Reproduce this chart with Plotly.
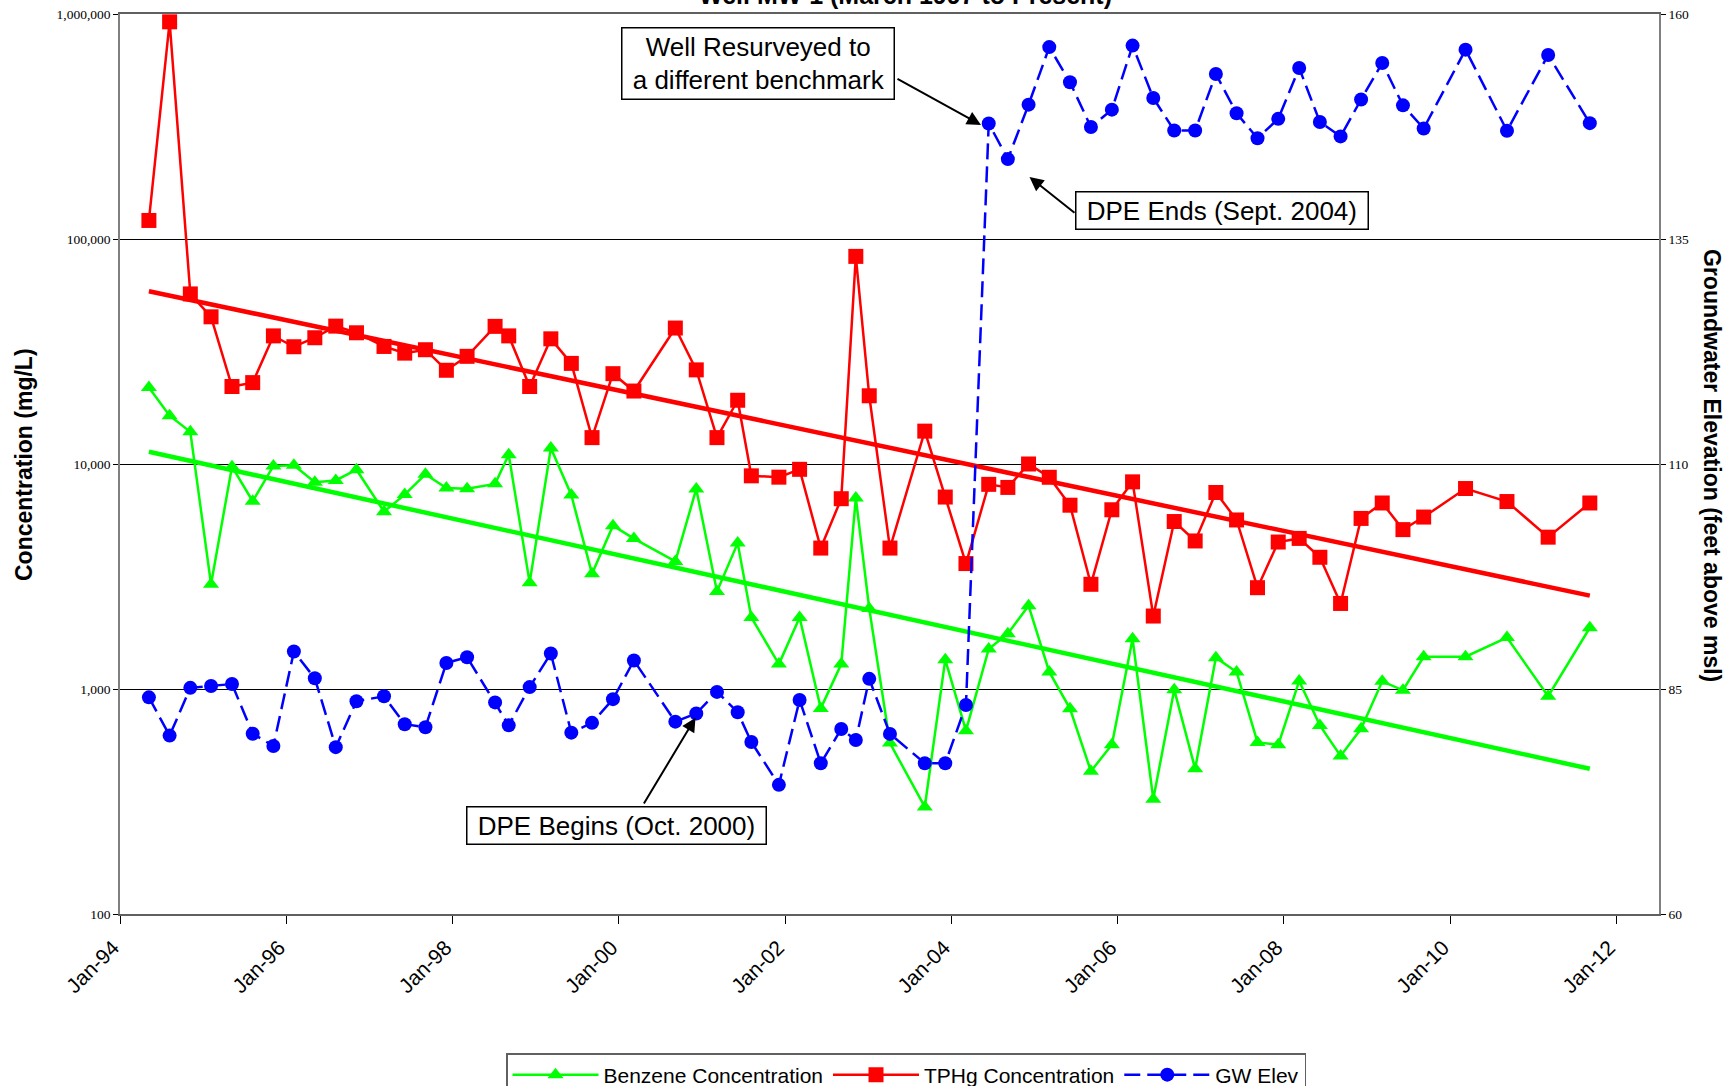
import plotly.graph_objects as go

# ---- data ----
dates = [
    "1994-05-08", "1994-08-07", "1994-11-06", "1995-02-05", "1995-05-08", "1995-08-07",
    "1995-11-06", "1996-02-04", "1996-05-06", "1996-08-06", "1996-11-05", "1997-03-06",
    "1997-06-05", "1997-09-04", "1997-12-05", "1998-03-06", "1998-07-07", "1998-09-05",
    "1998-12-06", "1999-03-09", "1999-06-07", "1999-09-06", "1999-12-07", "2000-03-08",
    "2000-09-06", "2000-12-07", "2001-03-08", "2001-06-07", "2001-08-06", "2001-12-05",
    "2002-03-06", "2002-06-07", "2002-09-05", "2002-11-08", "2003-01-06", "2003-04-07",
    "2003-09-07", "2003-12-06", "2004-03-06", "2004-06-14", "2004-09-06", "2004-12-06",
    "2005-03-07", "2005-06-06", "2005-09-06", "2005-12-07", "2006-03-08", "2006-06-07",
    "2006-09-07", "2006-12-08", "2007-03-09", "2007-06-08", "2007-09-08", "2007-12-08",
    "2008-03-09", "2008-06-08", "2008-09-07", "2008-12-06", "2009-03-09", "2009-06-08",
    "2009-09-07", "2010-03-10", "2010-09-08", "2011-03-08", "2011-09-07",
]

tphg = [
    120900, 923000, 57000, 45100, 22100, 23000,
    37100, 33200, 36400, 41000, 38300, 33300,
    31100, 32200, 26100, 30100, 40900, 37100,
    22100, 36000, 28000, 13100, 25200, 21100,
    40200, 26200, 13100, 19200, 8860, 8740,
    9470, 4230, 7010, 83700, 20100, 4230,
    14000, 7130, 3610, 8120, 7870, 10000,
    8730, 6560, 2920, 6260, 8330, 2110,
    5550, 4550, 7470, 5640, 2820, 4500,
    4670, 3850, 2400, 5730, 6710, 5110,
    5810, 7780, 6810, 4730, 6710,
]

benzene = [
    21900, 16400, 13900, 2920, 9730, 6830,
    9800, 9880, 8290, 8450, 9430, 6140,
    7310, 9000, 7820, 7760, 8160, 11000,
    2970, 11770, 7280, 3250, 5320, 4660,
    3690, 7750, 2710, 4450, 2080, 1290,
    2080, 820, 1290, 7070, 2280, 575,
    299, 1350, 653, 1507, 1762, 2346,
    1191, 818, 431, 565, 1672, 324,
    993, 442, 1378, 1191, 579, 565,
    1085, 689, 504, 665, 1082, 987,
    1391, 1391, 1692, 929, 1872,
]

gw_elev = [
    84.07, 79.82, 85.13, 85.34, 85.55, 80.03,
    78.67, 89.16, 86.19, 78.54, 83.64, 84.19,
    81.09, 80.75, 87.89, 88.53, 83.51, 80.96,
    85.21, 88.94, 80.15, 81.24, 83.87, 88.17,
    81.37, 82.28, 84.68, 82.42, 79.11, 74.35,
    83.78, 76.75, 80.56, 79.33, 86.13, 80.01,
    76.75, 76.75, 83.22, 147.84, 143.88, 149.93,
    156.32, 152.42, 147.44, 149.37, 156.49, 150.67,
    147.05, 147.05, 153.33, 148.97, 146.2, 148.35,
    154.0, 148.0, 146.4, 150.5, 154.55, 149.85,
    147.28, 156.04, 147.03, 155.45, 147.87,
]

# exponential trend lines (start/end values)
trend_dates = [dates[0], dates[-1]]
tphg_trend = [58600, 2600]
benzene_trend = [11330, 442]

conc_ticks = [100, 1000, 10000, 100000, 1000000]
conc_ticktext = ["100", "1,000", "10,000", "100,000", "1,000,000"]
elev_ticks = [60, 85, 110, 135, 160]
x_ticks = ["1994-01-01", "1996-01-01", "1998-01-01", "2000-01-01", "2002-01-01",
           "2004-01-01", "2006-01-01", "2008-01-01", "2010-01-01", "2012-01-01"]
x_ticktext = ["Jan-94", "Jan-96", "Jan-98", "Jan-00", "Jan-02",
              "Jan-04", "Jan-06", "Jan-08", "Jan-10", "Jan-12"]

title_text = "Well MW-1 (March 1997 to Present)"

SANS = "Arial, 'Liberation Sans', sans-serif"
SERIF = "'Times New Roman', 'Liberation Serif', serif"

fig = go.Figure()

fig.add_trace(go.Scatter(
    x=dates, y=benzene, name="Benzene Concentration", mode="lines+markers",
    line=dict(color="#00FF00", width=2.5),
    marker=dict(symbol="triangle-up", size=14, color="#00FF00"),
    yaxis="y",
))
fig.add_trace(go.Scatter(
    x=trend_dates, y=benzene_trend, mode="lines", showlegend=False,
    line=dict(color="#00FF00", width=4.5), hoverinfo="skip", yaxis="y",
))
fig.add_trace(go.Scatter(
    x=dates, y=tphg, name="TPHg Concentration", mode="lines+markers",
    line=dict(color="#FF0000", width=2.5),
    marker=dict(symbol="square", size=15, color="#FF0000"),
    yaxis="y",
))
fig.add_trace(go.Scatter(
    x=trend_dates, y=tphg_trend, mode="lines", showlegend=False,
    line=dict(color="#FF0000", width=4.5), hoverinfo="skip", yaxis="y",
))
fig.add_trace(go.Scatter(
    x=dates, y=gw_elev, name="GW Elev", mode="lines+markers",
    line=dict(color="#0000FF", width=2.5, dash="16px,7px"),
    marker=dict(symbol="circle", size=14, color="#0000FF"),
    yaxis="y2",
))

L, R, T, B = 120, 1659, 14, 914
W, H = 1736, 1086
pw, ph = R - L, B - T


def px(xp):
    return (xp - L) / pw


def py(yp):
    return (B - yp) / ph


annotations = []
# title (partly cut off at the top like the reference)
annotations.append(dict(
    text="<b>" + title_text + "</b>", xref="paper", yref="paper",
    x=px(905), y=py(-5), xanchor="center", yanchor="middle", showarrow=False,
    font=dict(family=SANS, size=25, color="black"),
))
# axis titles
annotations.append(dict(
    text="<b>Concentration (mg/L)</b>", xref="paper", yref="paper",
    x=px(24), y=py(465), xanchor="center", yanchor="middle", textangle=-90,
    showarrow=False, font=dict(family=SANS, size=23, color="black"),
))
annotations.append(dict(
    text="<b>Groundwater Elevation (feet above msl)</b>", xref="paper", yref="paper",
    x=px(1712), y=py(465), xanchor="center", yanchor="middle", textangle=90,
    showarrow=False, font=dict(family=SANS, size=23, color="black"),
))

box_font = dict(family=SANS, size=26, color="black")
boxes = [
    (" Well Resurveyed to <br> a different benchmark ", 757.5, 63.5),
    (" DPE Ends (Sept. 2004) ", 1221.5, 210.5),
    (" DPE Begins (Oct. 2000) ", 616, 825.7),
]
for txt, cx, cy in boxes:
    annotations.append(dict(
        text=txt, xref="paper", yref="paper", x=px(cx), y=py(cy),
        xanchor="center", yanchor="middle", showarrow=False, font=box_font,
        bgcolor="white", bordercolor="black", borderwidth=1.5, borderpad=3,
    ))

arrows = [
    ((981, 125), (896, 78)),
    ((1029.5, 177), (1076, 214)),
    ((695.5, 717.7), (643, 805)),
]
for (hx, hy), (tx, ty) in arrows:
    annotations.append(dict(
        text="", xref="paper", yref="paper", x=px(hx), y=py(hy),
        axref="pixel", ayref="pixel", ax=tx - hx, ay=ty - hy,
        showarrow=True, arrowhead=2, arrowsize=1.4, arrowwidth=2,
        arrowcolor="black", standoff=0, startstandoff=0,
    ))

fig.update_layout(
    width=W, height=H,
    margin=dict(l=L, r=W - R, t=T, b=H - B, pad=0, autoexpand=False),
    paper_bgcolor="white", plot_bgcolor="white",
    showlegend=True,
    legend=dict(
        orientation="h", x=px(906), y=py(1053), xanchor="center", yanchor="top",
        font=dict(family=SANS, size=21, color="black"),
        bgcolor="white", bordercolor="#606060", borderwidth=1.5,
        itemwidth=86, traceorder="normal",
    ),
    annotations=annotations,
    xaxis=dict(
        type="date", range=["1994-01-01", "2012-07-07"],
        tickvals=x_ticks, ticktext=x_ticktext, tickangle=-45,
        tickfont=dict(family=SANS, size=21, color="black"),
        ticks="outside", ticklen=8, tickcolor="black", tickwidth=1,
        ticklabelshift=-7, ticklabelstandoff=3,
        showgrid=False, zeroline=False,
        showline=True, linecolor="#606060", linewidth=2, mirror=True,
    ),
    yaxis=dict(
        type="log", range=[2, 6], tickvals=conc_ticks, ticktext=conc_ticktext,
        tickfont=dict(family=SERIF, size=13.5, color="black"),
        ticks="outside", ticklen=5, tickcolor="black",
        showgrid=True, gridcolor="black", gridwidth=1,
        showline=True, linecolor="#808080", linewidth=1.5, zeroline=False,
    ),
    yaxis2=dict(
        overlaying="y", side="right", range=[60, 160], tickvals=elev_ticks,
        tickfont=dict(family=SERIF, size=13.5, color="black"),
        ticks="outside", ticklen=5, tickcolor="black",
        showgrid=False, showline=True, linecolor="#808080", linewidth=1.5,
        zeroline=False,
    ),
)

fig.write_html("out.html")
